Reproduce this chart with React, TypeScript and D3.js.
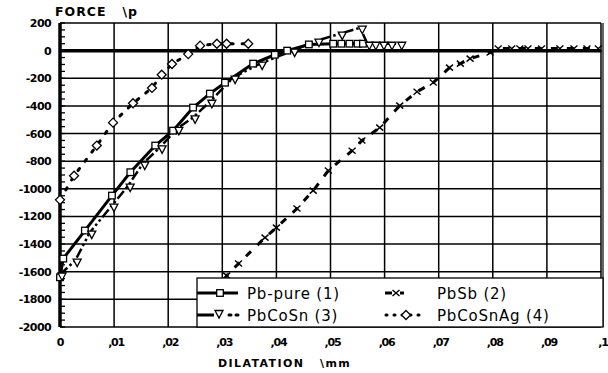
import * as d3 from 'd3'

// values (dilatation in mm, force in p)
const xTicks = [0, 0.01, 0.02, 0.03, 0.04, 0.05, 0.06, 0.07, 0.08, 0.09, 0.1]
const xTickLabels = ['0', ',01', ',02', ',03', ',04', ',05', ',06', ',07', ',08', ',09', ',1']
const yTicks = [200, 0, -200, -400, -600, -800, -1000, -1200, -1400, -1600, -1800, -2000]

const pbPure: [number, number][] = [
  [0, -1640], [0.0006, -1505], [0.0046, -1302], [0.0096, -1049], [0.013, -880],
  [0.0176, -687], [0.0209, -579], [0.0246, -412], [0.0277, -311], [0.0305, -232],
  [0.0357, -94], [0.0397, -30], [0.042, 0], [0.046, 45], [0.0505, 50],
  [0.052, 50], [0.0535, 50], [0.055, 50], [0.056, 50],
]
const pbCoSn: [number, number][] = [
  [0, -1620], [0.0028, -1520], [0.0055, -1317], [0.0096, -1121], [0.0126, -977],
  [0.0153, -818], [0.0185, -700], [0.0216, -566], [0.0246, -483], [0.0277, -370],
  [0.032, -195], [0.037, -94], [0.043, 0], [0.0475, 72], [0.0518, 123],
  [0.0555, 166], [0.0568, 50], [0.058, 50], [0.0595, 50], [0.061, 50], [0.0628, 50],
]
const pbSb: [number, number][] = [
  [0.029, -1760], [0.0308, -1628], [0.033, -1541], [0.0379, -1353], [0.04, -1281],
  [0.0438, -1143], [0.0468, -1013], [0.0496, -868], [0.054, -724], [0.0558, -651],
  [0.0591, -557], [0.0628, -398], [0.066, -297], [0.069, -231], [0.072, -123],
  [0.074, -94], [0.0758, -58], [0.0795, -14], [0.081, 15], [0.0835, 15],
  [0.085, 15], [0.0865, 15], [0.089, 15], [0.0924, 15], [0.095, 15], [0.0974, 15], [0.0995, 15],
]
const pbCoSnAg: [number, number][] = [
  [0, -1080], [0.0026, -905], [0.0068, -687], [0.0098, -521], [0.0135, -381],
  [0.017, -270], [0.0188, -174], [0.0207, -97], [0.0237, -25], [0.0259, 36],
  [0.029, 50], [0.0308, 50], [0.0348, 50],
]

const W = 608
const H = 373
const x = d3.scaleLinear().domain([0, 0.1]).range([60, 601])
const y = d3.scaleLinear().domain([-2000, 200]).range([327, 23])
const line = d3.line<[number, number]>().x(d => x(d[0])).y(d => y(d[1]))

const boldFont = '"DejaVu Sans", sans-serif'

function Square({ cx, cy }: { cx: number; cy: number }) {
  return <rect x={cx - 3.3} y={cy - 3.3} width={6.6} height={6.6} fill="#fff" stroke="#000" strokeWidth={1.3} />
}
function Tri({ cx, cy }: { cx: number; cy: number }) {
  return <path d={`M${cx - 4},${cy - 3.5}L${cx + 4},${cy - 3.5}L${cx},${cy + 4}Z`} fill="#fff" stroke="#000" strokeWidth={1.3} />
}
function Cross({ cx, cy }: { cx: number; cy: number }) {
  return <path d={`M${cx - 3.5},${cy - 3}L${cx + 3.5},${cy + 3}M${cx - 3.5},${cy + 3}L${cx + 3.5},${cy - 3}`} stroke="#000" strokeWidth={1.4} />
}
function Diamond({ cx, cy }: { cx: number; cy: number }) {
  return <path d={`M${cx},${cy - 4.5}L${cx + 4.5},${cy}L${cx},${cy + 4.5}L${cx - 4.5},${cy}Z`} fill="#fff" stroke="#000" strokeWidth={1.3} />
}

export default function App() {
  const minor = d3.range(-2000, 201, 50)
  return (
    <svg width={W} height={H} style={{ position: 'absolute', left: 0, top: 0, background: '#fff' }} fontFamily={boldFont}>
      {/* grid */}
      {xTicks.map(t => (
        <line key={'gx' + t} x1={x(t)} x2={x(t)} y1={y(200)} y2={y(-2000)} stroke="#000" strokeWidth={1.5} />
      ))}
      {yTicks.map(t => (
        <line key={'gy' + t} x1={x(0)} x2={x(0.1)} y1={y(t)} y2={y(t)} stroke="#000" strokeWidth={t === 0 ? 3.5 : 1.5} />
      ))}
      <line x1={x(0.1) + 2} x2={x(0.1) + 2} y1={y(200)} y2={y(-2000)} stroke="#000" strokeWidth={1.2} />
      {/* y axis with minor ticks */}
      <line x1={x(0)} x2={x(0)} y1={y(200)} y2={y(-2000)} stroke="#000" strokeWidth={3.5} />
      {minor.map(t => (
        <line key={'m' + t} x1={x(0)} x2={x(0) + 5} y1={y(t)} y2={y(t)} stroke="#000" strokeWidth={1.3} />
      ))}
      {yTicks.map(t => (
        <text key={'yl' + t} x={51} y={y(t) + 4} textAnchor="end" fontSize={11} fontWeight="bold" letterSpacing={-0.6}>
          {t === 0 ? '0' : t < 0 ? '-' + Math.abs(t) : String(t)}
        </text>
      ))}
      {xTicks.map((t, i) => (
        <text key={'xl' + t} x={x(t) + (i === 0 ? 0 : 2)} y={346} textAnchor="middle" fontSize={11} fontWeight="bold" letterSpacing={-1.2}>
          {xTickLabels[i]}
        </text>
      ))}
      <text x={55} y={16} fontSize={12.5} fontWeight="bold" letterSpacing={1} style={{ whiteSpace: 'pre' }}>FORCE   \p</text>
      <text x={218} y={367} fontSize={11} fontWeight="bold" letterSpacing={1.4} style={{ whiteSpace: 'pre' }}>DILATATION   \mm</text>

      {/* series */}
      <path d={line(pbCoSn) ?? ''} fill="none" stroke="#000" strokeWidth={2.5} strokeDasharray="10,3,2.5,3,2.5,3" />
      <path d={line(pbPure) ?? ''} fill="none" stroke="#000" strokeWidth={3} />
      <path d={line(pbSb) ?? ''} fill="none" stroke="#000" strokeWidth={3} strokeDasharray="7,9" />
      <path d={line(pbCoSnAg) ?? ''} fill="none" stroke="#000" strokeWidth={3} strokeDasharray="2.5,9" strokeLinecap="round" />
      {pbPure.map((d, i) => <Square key={'s' + i} cx={x(d[0])} cy={y(d[1])} />)}
      {pbCoSn.map((d, i) => <Tri key={'t' + i} cx={x(d[0]) + 2} cy={y(d[1]) + 2} />)}
      {pbSb.map((d, i) => <Cross key={'c' + i} cx={x(d[0])} cy={y(d[1])} />)}
      {pbCoSnAg.map((d, i) => <Diamond key={'d' + i} cx={x(d[0])} cy={y(d[1])} />)}

      {/* legend */}
      <rect x={197} y={278} width={406} height={49} fill="#fff" stroke="#000" strokeWidth={1.3} />
      <g fontSize={15} letterSpacing={0.8} style={{ whiteSpace: 'pre' }}>
        <line x1={197} x2={238} y1={293} y2={293} stroke="#000" strokeWidth={3} />
        <Square cx={220} cy={293} />
        <text x={247} y={299}>Pb-pure  (1)</text>
        <line x1={197} x2={214} y1={315} y2={315} stroke="#000" strokeWidth={3} />
        <line x1={229} x2={240} y1={315} y2={315} stroke="#000" strokeWidth={3} strokeDasharray="2,5" strokeLinecap="round" />
        <Tri cx={219} cy={314} />
        <text x={247} y={321}>PbCoSn  (3)</text>
        <line x1={385} x2={392} y1={293} y2={293} stroke="#000" strokeWidth={3} />
        <line x1={400} x2={404} y1={293} y2={293} stroke="#000" strokeWidth={3} />
        <Cross cx={396} cy={293} />
        <text x={437} y={299}>PbSb  (2)</text>
        <line x1={386} x2={420} y1={315} y2={315} stroke="#000" strokeWidth={3} strokeDasharray="1,7" strokeLinecap="round" />
        <Diamond cx={406} cy={315} />
        <text x={437} y={321}>PbCoSnAg  (4)</text>
      </g>
    </svg>
  )
}
